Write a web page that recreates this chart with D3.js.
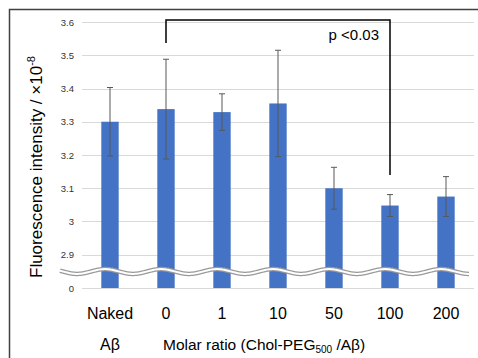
<!DOCTYPE html>
<html><head><meta charset="utf-8">
<script src="https://cdn.jsdelivr.net/npm/d3@7"></script>
<style>body{margin:0;background:#fff}svg{display:block}</style>
</head><body>
<svg id="c" width="478" height="358"></svg>
<script>
const categories = ["Naked","0","1","10","50","100","200"];
const values = [3.30,3.338,3.329,3.355,3.100,3.048,3.075];
const errors = [0.103,0.150,0.055,0.160,0.063,0.033,0.060];
const yTicks = [2.8,2.9,3.0,3.1,3.2,3.3,3.4,3.5,3.6];
const yTickLabels = ["0","2.9","3","3.1","3.2","3.3","3.4","3.5","3.6"];
const sig = {from:"0", to:"100", label:"p <0.03"};

const svg = d3.select("#c");
const font = "Liberation Sans, Arial, sans-serif";
const x = d3.scaleBand().domain(categories).range([82,474]).paddingInner(0.69).paddingOuter(0.345);
const y = d3.scaleLinear().domain([2.8,3.6]).range([288,22]);

// frame
svg.append("path").attr("d","M9.5,358 L9.5,9.5 L478,9.5").attr("fill","none").attr("stroke","#404040").attr("stroke-width",1.5);

// gridlines
svg.append("g").selectAll("line").data(yTicks).join("line")
  .attr("x1",82).attr("x2",474).attr("y1",d=>Math.round(y(d))+0.5).attr("y2",d=>Math.round(y(d))+0.5)
  .attr("stroke","#d9d9d9").attr("stroke-width",1);

// y axis labels
const ya = d3.axisLeft(y).tickValues(yTicks).tickFormat((d,i)=>yTickLabels[i]).tickSize(0).tickPadding(0);
const yg = svg.append("g").attr("transform","translate(74,0)").call(ya);
yg.select(".domain").remove();
yg.selectAll("text").attr("font-family",font).attr("font-size",9.5).attr("fill","#333");

// bars
svg.append("g").selectAll("rect").data(categories).join("rect")
  .attr("x",d=>x(d)).attr("width",x.bandwidth())
  .attr("y",(d,i)=>y(values[i])).attr("height",(d,i)=>y(2.8)-y(values[i]))
  .attr("fill","#4472C4");

// error bars
const eg = svg.append("g").attr("stroke","#595959").attr("stroke-width",1);
categories.forEach((c,i)=>{
  const cx = x(c)+x.bandwidth()/2;
  const t = y(values[i]+errors[i]), b = y(values[i]-errors[i]);
  eg.append("line").attr("x1",cx).attr("x2",cx).attr("y1",t).attr("y2",b);
  eg.append("line").attr("x1",cx-3).attr("x2",cx+3).attr("y1",t).attr("y2",t);
  eg.append("line").attr("x1",cx-3).attr("x2",cx+3).attr("y1",b).attr("y2",b);
});

// break wave
const wy = 271.5, amp = 2.4, wl = 56;
const pts = d3.range(60,469.5,1).map(px=>[px, wy - amp*Math.cos((px-105)/wl*2*Math.PI)]);
const line = d3.line().curve(d3.curveBasis);
svg.append("path").attr("d",line(pts)).attr("fill","none").attr("stroke","#999").attr("stroke-width",4.5);
svg.append("path").attr("d",line(pts)).attr("fill","none").attr("stroke","#ffffff").attr("stroke-width",2);

// significance bracket
const sx1 = x(sig.from)+x.bandwidth()/2, sx2 = x(sig.to)+x.bandwidth()/2;
svg.append("path").attr("d",`M${sx1},43 L${sx1},20 L${sx2},20 L${sx2},175`)
  .attr("fill","none").attr("stroke","#000").attr("stroke-width",1.5);
svg.append("text").attr("x",sx2-11).attr("y",40).attr("text-anchor","end")
  .attr("font-family",font).attr("font-size",15).attr("fill","#000").text(sig.label);

// x labels
svg.append("g").selectAll("text").data(categories).join("text")
  .attr("x",d=>x(d)+x.bandwidth()/2).attr("y",319).attr("text-anchor","middle")
  .attr("font-family",font).attr("font-size",16).attr("fill","#000").text(d=>d);

svg.append("text").attr("x",x("Naked")+x.bandwidth()/2).attr("y",350).attr("text-anchor","middle")
  .attr("font-family",font).attr("font-size",16).attr("fill","#000").text("Aβ");
const xt = svg.append("text").attr("x",163).attr("y",350)
  .attr("font-family",font).attr("font-size",15.5).attr("fill","#000");
xt.append("tspan").text("Molar ratio (Chol-PEG");
xt.append("tspan").attr("font-size",10).attr("dy",3).text("500");
xt.append("tspan").attr("dy",-3).text(" /Aβ)");

// y title
const yt = svg.append("text").attr("transform","translate(42,278) rotate(-90)").attr("text-anchor","start")
  .attr("font-family",font).attr("font-size",17).attr("fill","#000");
yt.append("tspan").text("Fluorescence intensity / ×10");
yt.append("tspan").attr("font-size",11).attr("dy",-7).text("-8");
</script>
</body></html>
